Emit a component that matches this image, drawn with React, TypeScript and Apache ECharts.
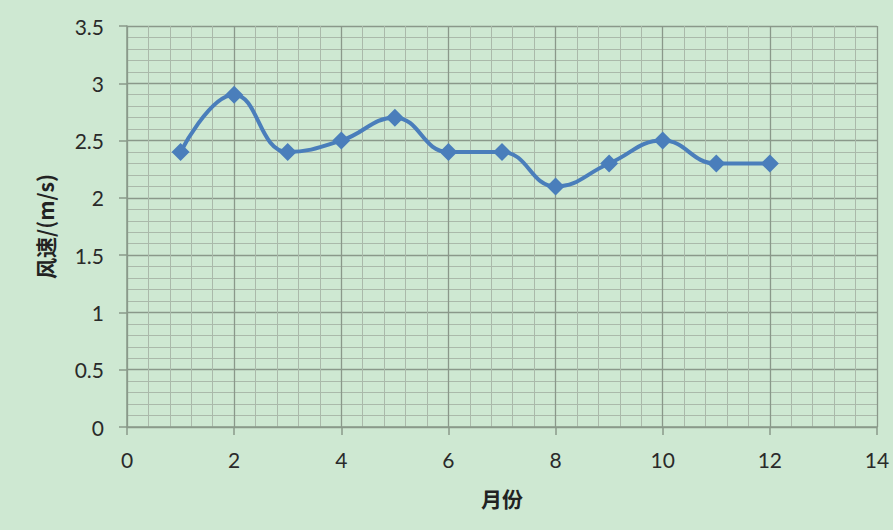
import React, { useEffect, useRef } from "react";
import * as echarts from "echarts";

const months = [1, 2, 3, 4, 5, 6, 7, 8, 9, 10, 11, 12];
const windSpeed = [2.4, 2.9, 2.4, 2.5, 2.7, 2.4, 2.4, 2.1, 2.3, 2.5, 2.3, 2.3];
const xAxisName = "月份";
const yAxisName = "风速/(m/s)";

export default function App() {
  const ref = useRef<HTMLDivElement>(null);
  useEffect(() => {
    if (!ref.current) return;
    const chart = echarts.init(ref.current, null, { renderer: "svg" });
    const labelFont = { fontFamily: "Lato, 'Open Sans', sans-serif", fontSize: 21, color: "#2a2a2a" };
    const nameFont = {
      fontFamily: "'Noto Sans CJK SC', sans-serif",
      fontSize: 21,
      fontWeight: "bold" as const,
      color: "#222",
    };
    chart.setOption({
      animation: false,
      backgroundColor: "#cee8d2",
      grid: { left: 127, right: 16, top: 26, bottom: 103, show: false },
      xAxis: {
        type: "value",
        min: 0,
        max: 14,
        interval: 2,
        name: xAxisName,
        nameLocation: "middle",
        nameGap: 60,
        nameTextStyle: nameFont,
        axisLine: { show: true, lineStyle: { color: "#8a9a8a", width: 1.5 } },
        axisTick: { show: true, length: 8, lineStyle: { color: "#8a9a8a", width: 1.5 } },
        axisLabel: { ...labelFont, margin: 22 },
        splitLine: { show: true, lineStyle: { color: "#8a988a", width: 1.3 } },
        minorTick: { show: false, splitNumber: 5 },
        minorSplitLine: { show: true, lineStyle: { color: "#aab9aa", width: 1 } },
      },
      yAxis: {
        type: "value",
        min: 0,
        max: 3.5,
        interval: 0.5,
        name: yAxisName,
        nameLocation: "middle",
        nameGap: 72,
        nameTextStyle: nameFont,
        axisLine: { show: true, lineStyle: { color: "#8a9a8a", width: 1.5 } },
        axisTick: { show: true, length: 8, lineStyle: { color: "#8a9a8a", width: 1.5 } },
        axisLabel: { ...labelFont, margin: 23 },
        splitLine: { show: true, lineStyle: { color: "#8a988a", width: 1.3 } },
        minorTick: { show: false, splitNumber: 5 },
        minorSplitLine: { show: true, lineStyle: { color: "#aab9aa", width: 1 } },
      },
      series: [
        {
          type: "line",
          data: months.map((m, i) => [m, windSpeed[i]]),
          smooth: 0.45,
          symbol: "diamond",
          symbolSize: 18,
          lineStyle: { color: "#4a7ebb", width: 4 },
          itemStyle: { color: "#4a7ebb" },
        },
      ],
    });
    return () => chart.dispose();
  }, []);
  return <div ref={ref} style={{ width: 893, height: 530, position: "absolute", left: 0, top: 0 }} />;
}
